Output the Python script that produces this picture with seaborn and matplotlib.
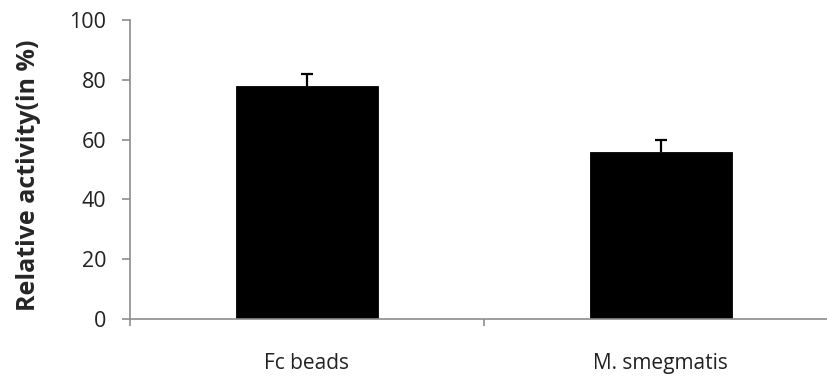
import matplotlib
matplotlib.use("Agg")
import matplotlib.pyplot as plt
import seaborn as sns
import pandas as pd

# Relative activity per treatment, with upper error
categories = ["Fc beads", "M. smegmatis"]
activity = [78, 56]
errors = [4, 4]

sns.set_style("white")
plt.rcParams["font.family"] = ["Open Sans", "DejaVu Sans"]

df = pd.DataFrame({"group": categories, "activity": activity})

fig = plt.figure(figsize=(8.28, 3.79), dpi=100)
ax = fig.add_axes([130 / 828, 1 - 319 / 379, 1 - 130 / 828, (319 - 20) / 379])

sns.barplot(data=df, x="group", y="activity", color="black", width=0.4,
            saturation=1, edgecolor="black", linewidth=0.6, ax=ax, errorbar=None)

# upward-only error bars with a cap on top
xs = list(range(len(categories)))
tops = [a + e for a, e in zip(activity, errors)]
ax.vlines(xs, activity, tops, colors="black", linewidth=1.6, zorder=3)
ax.hlines(tops, [x - 0.017 for x in xs], [x + 0.017 for x in xs],
          colors="black", linewidth=1.6, zorder=3)

ax.set_ylim(0, 100)
ax.set_xlim(-0.5, 1.472)
ax.set_yticks([0, 20, 40, 60, 80, 100])
ax.set_xlabel("")
ax.set_ylabel("Relative activity(in %)", fontsize=18, fontweight="bold")
ax.yaxis.set_label_coords(-0.128, 0.48)

gray = "#8c8c8c"
for side in ["top", "right"]:
    ax.spines[side].set_visible(False)
for side in ["left", "bottom"]:
    ax.spines[side].set_color(gray)
    ax.spines[side].set_linewidth(1.2)

ax.tick_params(axis="y", which="major", left=True, length=6, width=1.2, color=gray,
               labelsize=15.5, labelcolor="#222222", pad=11)
ax.tick_params(axis="x", which="major", bottom=False, labelsize=15,
               labelcolor="#222222", pad=21)
# category boundary ticks
ax.set_xticks([-0.5, 0.5], minor=True)
ax.tick_params(axis="x", which="minor", bottom=True, length=5, width=1.2, color=gray)

fig.savefig("out.png", dpi=100)
